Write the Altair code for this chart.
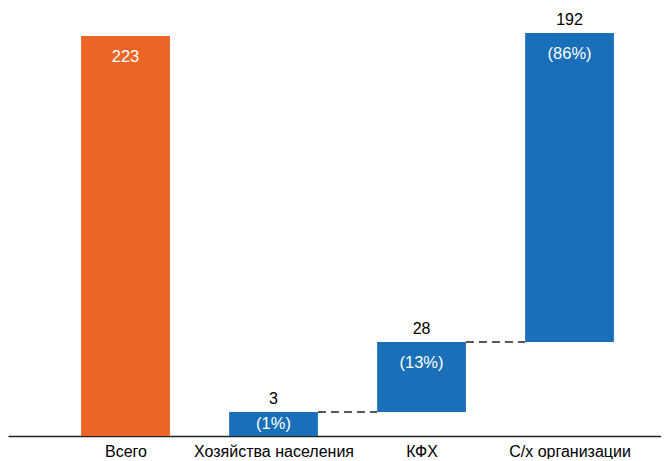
import json
import altair as alt
import pandas as pd

# --- data ---
categories = ["Всего", "Хозяйства населения", "КФХ", "С/х организации"]
values = [223, 3, 28, 192]
shares = ["", "(1%)", "(13%)", "(86%)"]
kinds = ["total", "part", "part", "part"]
# bar extents as drawn in the picture (the picture is not drawn to scale)
bar_bottom = [0, 0, 24, 94]
bar_top = [400, 24, 94, 403]

ORANGE = "#EB6526"
BLUE = "#1A70B8"
FONT = "Liberation Sans"

idx = list(range(len(categories)))
df = pd.DataFrame({
    "idx": idx,
    "cat": categories,
    "value": values,
    "share": shares,
    "kind": kinds,
    "bottom": bar_bottom,
    "top": bar_top,
})
df["top_label"] = [("" if k == "total" else str(v)) for k, v in zip(kinds, values)]
df["inner_label"] = [(str(v) if k == "total" else s) for k, v, s in zip(kinds, values, shares)]

# connectors between consecutive stacked parts
conn = []
for i in range(len(idx) - 1):
    if bar_top[i] == bar_bottom[i + 1]:
        conn.append({"i": i, "level": bar_top[i]})
conn_df = pd.DataFrame(conn)

HALF = 0.3
xscale = alt.Scale(domain=[-0.794, 3.618], nice=False, zero=False)
yscale = alt.Scale(domain=[0, 428], nice=False, zero=False)

label_expr = json.dumps(categories, ensure_ascii=False) + "[datum.value]"

base = alt.Chart(df).transform_calculate(
    x0=f"datum.idx - {HALF}",
    x1=f"datum.idx + {HALF}",
    inner_y="max(datum.top - 21, (datum.top + datum.bottom) / 2)",
)

bars = base.mark_bar().encode(
    x=alt.X("x0:Q", scale=xscale, axis=alt.Axis(
        values=idx, labelExpr=label_expr, title=None, ticks=False, grid=False,
        domain=True, domainColor="#222222", domainWidth=1.5,
        labelFontSize=16, labelColor="#000000", labelFont=FONT,
        labelPadding=7, labelOverlap=False, labelFlush=False,
    )),
    x2="x1:Q",
    y=alt.Y("bottom:Q", scale=yscale, axis=None),
    y2="top:Q",
    color=alt.Color("kind:N", scale=alt.Scale(domain=["total", "part"], range=[ORANGE, BLUE]), legend=None),
)

rules = alt.Chart(conn_df).transform_calculate(
    xa=f"datum.i + {HALF}",
    xb=f"datum.i + 1 - {HALF}",
).mark_rule(strokeDash=[8, 5], strokeWidth=1.5, color="#222222").encode(
    x=alt.X("xa:Q", scale=xscale),
    x2="xb:Q",
    y=alt.Y("level:Q", scale=yscale),
)

top_text = base.mark_text(baseline="alphabetic", dy=-8, fontSize=16, font=FONT, color="#000000").encode(
    x=alt.X("idx:Q", scale=xscale),
    y=alt.Y("top:Q", scale=yscale),
    text="top_label:N",
)

inner_text = base.mark_text(baseline="middle", fontSize=16.5, font=FONT, color="#FFFFFF").encode(
    x=alt.X("idx:Q", scale=xscale),
    y=alt.Y("inner_y:Q", scale=yscale),
    text="inner_label:N",
)

chart = alt.layer(bars, rules, top_text, inner_text).properties(
    width=653, height=428, padding={"left": 0, "right": 0, "top": 0, "bottom": 0},
    background="#FFFFFF",
).configure_view(stroke=None)

chart.save("out.html", embed_options={"renderer": "svg", "actions": False})
